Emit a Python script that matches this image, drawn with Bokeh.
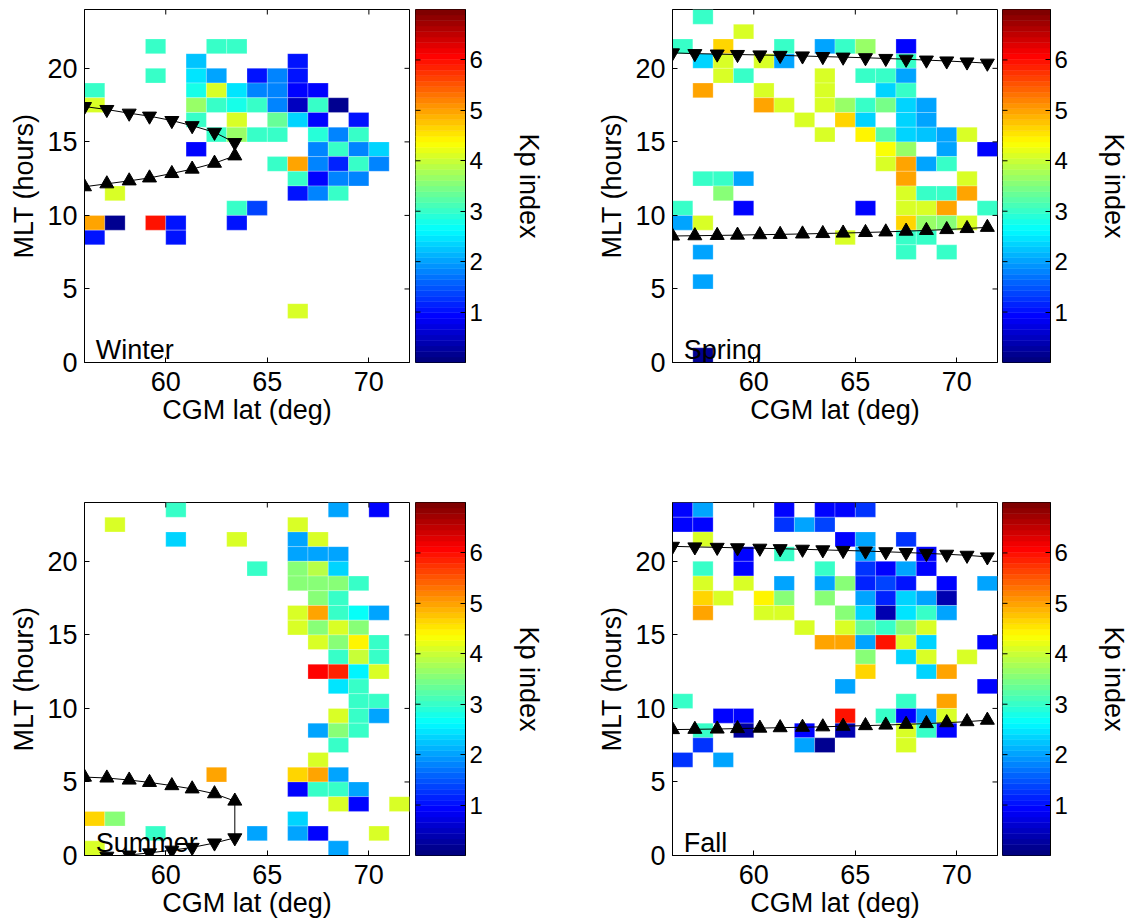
import numpy as np
from bokeh.plotting import figure
from bokeh.models import ColumnDataSource, FixedTicker, Label, Range1d
from bokeh.layouts import row, column
from bokeh.transform import linear_cmap
from bokeh.embed import file_html
from bokeh.resources import INLINE

# ---------------- data ----------------
# cells: (CGM lat bin start [deg], MLT bin start [h], mean Kp)
winter_cells = [
    (59, 21, 3.0), (62, 21, 3.0), (63, 21, 3.0),
    (61, 20, 2.2), (66, 20, 1.0),
    (59, 19, 3.0), (61, 19, 2.5), (62, 19, 2.0), (64, 19, 1.0), (65, 19, 1.8), (66, 19, 1.0),
    (56, 18, 3.0), (61, 18, 2.8), (62, 18, 4.1), (63, 18, 2.5), (64, 18, 1.8), (65, 18, 1.8),
    (66, 18, 0.9), (67, 18, 0.9),
    (56, 17, 4.1), (61, 17, 3.7), (62, 17, 3.0), (63, 17, 2.8), (64, 17, 3.0), (65, 17, 1.8),
    (66, 17, 0.5), (67, 17, 3.0), (68, 17, 0.2),
    (61, 16, 3.0), (63, 16, 4.1), (65, 16, 3.3), (66, 16, 2.4), (67, 16, 0.9), (69, 16, 1.0),
    (62, 15, 3.0), (63, 15, 3.7), (64, 15, 3.0), (65, 15, 3.0), (67, 15, 2.9), (68, 15, 1.8),
    (69, 15, 3.0),
    (61, 14, 0.9), (67, 14, 1.8), (68, 14, 3.0), (69, 14, 1.8), (70, 14, 2.4),
    (65, 13, 3.0), (66, 13, 5.0), (67, 13, 1.8), (68, 13, 1.2), (69, 13, 3.0), (70, 13, 1.8),
    (66, 12, 3.0), (67, 12, 0.9), (68, 12, 1.8), (69, 12, 1.8),
    (57, 11, 4.1), (66, 11, 1.0), (67, 11, 1.8), (68, 11, 3.0),
    (63, 10, 3.0), (64, 10, 1.4),
    (56, 9, 5.0), (57, 9, 0.2), (59, 9, 6.0), (60, 9, 1.0), (63, 9, 1.0),
    (56, 8, 1.0), (60, 8, 1.0),
    (66, 3, 4.1),
]
spring_cells = [
    (57, 23, 3.0),
    (59, 22, 4.1),
    (56, 21, 3.0), (58, 21, 4.6), (61, 21, 3.0), (63, 21, 2.0), (64, 21, 3.0), (65, 21, 3.7),
    (67, 21, 0.9),
    (57, 20, 2.4), (58, 20, 4.1), (60, 20, 4.1), (61, 20, 2.0), (67, 20, 3.0),
    (58, 19, 4.1), (59, 19, 3.0), (63, 19, 4.1), (65, 19, 3.0), (66, 19, 3.0), (67, 19, 2.0),
    (57, 18, 5.0), (60, 18, 4.1), (63, 18, 4.1), (66, 18, 2.4), (67, 18, 3.0),
    (60, 17, 5.0), (61, 17, 4.1), (63, 17, 4.1), (64, 17, 3.7), (65, 17, 3.0), (66, 17, 3.4),
    (67, 17, 2.4), (68, 17, 2.0),
    (62, 16, 4.1), (64, 16, 4.6), (65, 16, 2.4), (67, 16, 2.4), (68, 16, 2.0),
    (63, 15, 4.1), (65, 15, 4.4), (66, 15, 3.2), (67, 15, 2.3), (68, 15, 2.2), (69, 15, 2.0),
    (70, 15, 4.1),
    (66, 14, 4.3), (67, 14, 3.7), (69, 14, 2.0), (71, 14, 0.9),
    (66, 13, 4.1), (67, 13, 5.0), (68, 13, 2.0), (69, 13, 3.0),
    (57, 12, 3.0), (58, 12, 3.0), (59, 12, 2.0), (67, 12, 5.0), (70, 12, 4.1),
    (58, 11, 3.6), (67, 11, 4.1), (68, 11, 3.0), (69, 11, 3.0), (70, 11, 5.0),
    (56, 10, 3.0), (59, 10, 0.9), (65, 10, 0.9), (67, 10, 4.1), (68, 10, 4.1), (69, 10, 5.0),
    (71, 10, 3.0),
    (56, 9, 2.0), (57, 9, 4.1), (67, 9, 4.6), (68, 9, 3.7), (69, 9, 3.6), (70, 9, 4.1),
    (64, 8, 4.1), (67, 8, 3.0), (68, 8, 3.0),
    (57, 7, 2.0), (67, 7, 3.0), (69, 7, 3.0),
    (57, 5, 2.0),
    (57, 0, 0.2),
]
summer_cells = [
    (60, 23, 3.0), (68, 23, 2.0), (70, 23, 0.9),
    (57, 22, 4.1), (66, 22, 4.1),
    (60, 21, 2.4), (63, 21, 4.1), (66, 21, 2.0), (67, 21, 4.1),
    (66, 20, 2.0), (67, 20, 2.0), (68, 20, 2.0),
    (64, 19, 3.0), (66, 19, 3.6), (67, 19, 3.9), (68, 19, 2.4),
    (66, 18, 3.6), (67, 18, 3.6), (68, 18, 3.6), (69, 18, 3.0),
    (67, 17, 3.6), (68, 17, 3.0),
    (66, 16, 4.1), (67, 16, 5.0), (68, 16, 3.0), (69, 16, 2.7), (70, 16, 2.0),
    (66, 15, 4.1), (67, 15, 3.6), (68, 15, 4.1), (69, 15, 3.6),
    (67, 14, 4.1), (68, 14, 3.6), (69, 14, 4.4), (70, 14, 3.0),
    (68, 13, 3.0), (69, 13, 4.0), (70, 13, 3.0),
    (67, 12, 6.1), (68, 12, 5.8), (69, 12, 2.6), (70, 12, 4.1),
    (68, 11, 2.5), (69, 11, 3.0),
    (69, 10, 3.0), (70, 10, 3.0),
    (68, 9, 4.1), (69, 9, 3.0), (70, 9, 2.0),
    (67, 8, 2.0), (68, 8, 3.6), (69, 8, 3.0),
    (68, 7, 3.0),
    (67, 6, 4.1),
    (62, 5, 5.0), (66, 5, 4.6), (67, 5, 5.0), (68, 5, 2.0),
    (66, 4, 0.9), (67, 4, 3.0), (68, 4, 3.0), (69, 4, 2.0),
    (68, 3, 4.1), (69, 3, 0.9), (71, 3, 4.1),
    (56, 2, 4.6), (57, 2, 3.6), (66, 2, 2.4),
    (59, 1, 3.0), (64, 1, 2.0), (66, 1, 2.0), (67, 1, 0.9), (70, 1, 4.1),
    (56, 0, 4.1), (68, 0, 2.0),
]
fall_cells = [
    (56, 23, 0.9), (57, 23, 2.0), (61, 23, 0.9), (63, 23, 0.9), (64, 23, 0.9), (65, 23, 1.3),
    (56, 22, 0.9), (57, 22, 0.9), (61, 22, 1.3), (62, 22, 2.0), (63, 22, 1.4),
    (57, 21, 4.1), (64, 21, 0.9), (65, 21, 2.0), (67, 21, 1.3),
    (59, 20, 0.9), (61, 20, 3.0), (65, 20, 2.0), (68, 20, 0.9),
    (57, 19, 3.0), (59, 19, 0.9), (63, 19, 3.0), (65, 19, 1.3), (66, 19, 0.9), (67, 19, 2.0),
    (68, 19, 0.9),
    (57, 18, 4.1), (59, 18, 4.1), (61, 18, 2.0), (63, 18, 2.0), (64, 18, 3.6), (65, 18, 1.2),
    (66, 18, 1.4), (67, 18, 1.0), (69, 18, 0.9), (71, 18, 2.0),
    (57, 17, 4.6), (58, 17, 4.1), (60, 17, 4.4), (61, 17, 3.6), (63, 17, 3.6), (65, 17, 2.0),
    (66, 17, 1.2), (67, 17, 2.4), (68, 17, 2.0), (69, 17, 0.4),
    (57, 16, 5.0), (60, 16, 4.1), (61, 16, 4.1), (64, 16, 3.6), (65, 16, 2.4), (66, 16, 0.4),
    (67, 16, 2.5), (68, 16, 3.0), (69, 16, 2.0),
    (62, 15, 4.1), (64, 15, 4.1), (65, 15, 3.3), (66, 15, 3.0), (67, 15, 3.6), (68, 15, 4.1),
    (63, 14, 5.0), (64, 14, 5.0), (65, 14, 2.0), (66, 14, 6.0), (67, 14, 4.1), (68, 14, 2.4),
    (71, 14, 0.9),
    (65, 13, 3.6), (67, 13, 2.4), (68, 13, 4.1), (70, 13, 4.1),
    (65, 12, 4.6), (68, 12, 2.4), (69, 12, 5.0),
    (64, 11, 2.0), (71, 11, 0.9),
    (56, 10, 3.0), (67, 10, 3.0), (69, 10, 5.0),
    (58, 9, 0.9), (59, 9, 0.9), (64, 9, 6.0), (66, 9, 3.0), (67, 9, 0.9), (68, 9, 2.0),
    (69, 9, 4.1),
    (57, 8, 3.0), (59, 8, 0.3), (62, 8, 0.9), (64, 8, 0.4), (67, 8, 4.1), (68, 8, 3.0),
    (69, 8, 0.9),
    (57, 7, 1.3), (62, 7, 2.0), (63, 7, 0.2), (67, 7, 4.1),
    (56, 6, 1.3), (58, 6, 2.0),
]

# boundary markers (lat, MLT)
bound_lat = [56.0, 57.1, 58.2, 59.2, 60.3, 61.3, 62.4, 63.4,
             64.4, 65.5, 66.5, 67.5, 68.5, 69.5, 70.5, 71.5]
winter_down = [17.4, 17.2, 16.95, 16.75, 16.45, 16.1, 15.65, 14.95]
winter_up = [11.95, 12.15, 12.35, 12.55, 12.85, 13.15, 13.55, 14.05]
spring_down = [21.05, 21.0, 20.97, 20.94, 20.91, 20.88, 20.84, 20.8,
               20.76, 20.72, 20.67, 20.62, 20.56, 20.5, 20.43, 20.35]
spring_up = [8.6, 8.62, 8.64, 8.66, 8.69, 8.71, 8.74, 8.77,
             8.8, 8.84, 8.88, 8.93, 8.98, 9.04, 9.11, 9.19]
summer_down_lat = [57.1, 58.2, 59.2, 60.3, 61.3, 62.4, 63.4]
summer_down = [-0.05, 0.03, 0.18, 0.36, 0.55, 0.85, 1.2]
summer_up = [5.33, 5.27, 5.13, 4.97, 4.75, 4.53, 4.2, 3.7]
fall_down = [21.02, 20.98, 20.95, 20.92, 20.89, 20.86, 20.82, 20.78,
             20.74, 20.7, 20.65, 20.6, 20.54, 20.48, 20.41, 20.3]
fall_up = [8.56, 8.58, 8.6, 8.63, 8.66, 8.69, 8.72, 8.75,
           8.79, 8.83, 8.87, 8.92, 8.97, 9.03, 9.1, 9.2]

season_names = ["Winter", "Spring", "Summer", "Fall"]
x_ticks = [60, 65, 70]
y_ticks = [0, 5, 10, 15, 20]
cb_ticks = [1, 2, 3, 4, 5, 6]
KP_LOW, KP_HIGH = 0.0, 7.0
LAT_RANGE = (56, 72)
MLT_RANGE = (0, 24)
BIN = 1.0

# ---------------- style ----------------
FONT = "Liberation Sans"
FS = "27px"
FS_CB = "24px"
TICK = 10  # full dash length; half of it stays inside the frame


def jet(n=64):
    cols = []
    for i in range(n):
        x = i / (n - 1)
        r = min(max(1.5 - abs(4 * x - 3), 0), 1)
        g = min(max(1.5 - abs(4 * x - 2), 0), 1)
        b = min(max(1.5 - abs(4 * x - 1), 0), 1)
        cols.append("#%02x%02x%02x" % (round(r * 255), round(g * 255), round(b * 255)))
    return cols


PAL = jet(64)


def style_axis(ax, ticks, fs=FS):
    ax.ticker = FixedTicker(ticks=ticks)
    ax.major_tick_in = 5
    ax.major_tick_out = 0
    ax.minor_tick_in = 0
    ax.minor_tick_out = 0
    ax.axis_line_color = "black"
    ax.major_tick_line_color = "black"
    ax.major_label_text_font = FONT
    ax.major_label_text_color = "black"
    ax.major_label_text_font_size = fs
    ax.axis_label_text_font = FONT
    ax.axis_label_text_font_style = "normal"
    ax.axis_label_text_font_size = FS
    ax.axis_label_text_color = "black"


def heat_panel(cells, name, down_lat, down, up_lat, up, joined, bl, br, bt, bb):
    fw, fh = 325, 353
    p = figure(width=bl + fw + br, height=bt + fh + bb,
               x_range=Range1d(*LAT_RANGE), y_range=Range1d(*MLT_RANGE),
               toolbar_location=None, output_backend="svg",
               min_border_left=bl, min_border_right=br,
               min_border_top=bt, min_border_bottom=bb)
    p.xgrid.visible = False
    p.ygrid.visible = False
    p.outline_line_color = "black"
    p.background_fill_color = "white"
    p.border_fill_color = "white"

    lat, mlt, kp = zip(*cells)
    src = ColumnDataSource(dict(x=[v + BIN / 2 for v in lat],
                                y=[v + BIN / 2 for v in mlt], kp=list(kp)))
    p.rect(x="x", y="y", width=BIN, height=BIN, source=src,
           fill_color=linear_cmap("kp", PAL, KP_LOW, KP_HIGH),
           line_color="white", line_alpha=0.35, line_width=0.7)

    # boundary curves
    if joined:
        p.line(list(down_lat) + list(up_lat)[::-1], list(down) + list(up)[::-1],
               line_color="black", line_width=1)
    else:
        p.line(down_lat, down, line_color="black", line_width=1)
        p.line(up_lat, up, line_color="black", line_width=1)
    p.scatter(down_lat, down, marker="inverted_triangle", size=14,
              fill_color="black", line_color="black")
    p.scatter(up_lat, up, marker="triangle", size=14,
              fill_color="black", line_color="black")

    # inward ticks on the top and right frame edges (clipped to half length)
    p.scatter([LAT_RANGE[1]] * len(y_ticks), y_ticks, marker="dash", size=TICK,
              line_color="black", line_width=1)
    p.scatter(x_ticks, [MLT_RANGE[1]] * len(x_ticks), marker="dash", angle=np.pi / 2,
              size=TICK, line_color="black", line_width=1)

    style_axis(p.xaxis[0], x_ticks)
    p.xaxis[0].major_label_standoff = 9
    p.xaxis[0].axis_label = "CGM lat (deg)"
    p.xaxis[0].axis_label_standoff = 1
    style_axis(p.yaxis[0], y_ticks)
    p.yaxis[0].major_label_standoff = 7
    p.yaxis[0].axis_label = "MLT (hours)"
    p.yaxis[0].axis_label_standoff = 5

    p.add_layout(Label(x=56.55, y=0.85, text=name, text_font=FONT,
                       text_font_size=FS, text_color="black",
                       text_baseline="alphabetic"))
    return p


def colorbar_panel(br, bt, bb):
    fw, fh = 50, 353
    p = figure(width=fw + br, height=bt + fh + bb,
               x_range=Range1d(0, 1), y_range=Range1d(KP_LOW, KP_HIGH),
               toolbar_location=None, output_backend="svg",
               x_axis_location=None, y_axis_location="right",
               min_border_left=0, min_border_right=br,
               min_border_top=bt, min_border_bottom=bb)
    p.xgrid.visible = False
    p.ygrid.visible = False
    p.outline_line_color = "black"
    edges = np.linspace(KP_LOW, KP_HIGH, len(PAL) + 1)
    p.quad(left=0, right=1, bottom=edges[:-1], top=edges[1:],
           fill_color=PAL, line_color=PAL, line_width=0.5)
    p.scatter([0] * len(cb_ticks), cb_ticks, marker="dash", size=TICK,
              line_color="black", line_width=1)
    ax = p.yaxis[0]
    style_axis(ax, cb_ticks, fs=FS_CB)
    ax.major_label_standoff = 4
    ax.axis_label = "Kp index"
    ax.axis_label_standoff = 28
    return p


# ---------------- layout ----------------
TOP_T, TOP_B = 9, 70
BOT_T, BOT_B = 70, 67

w_lat8 = bound_lat[:8]
h1 = heat_panel(winter_cells, season_names[0], w_lat8, winter_down, w_lat8, winter_up, True,
                84, 6, TOP_T, TOP_B)
c1 = colorbar_panel(121, TOP_T, TOP_B)
h2 = heat_panel(spring_cells, season_names[1], bound_lat, spring_down, bound_lat, spring_up,
                False, 86, 5, TOP_T, TOP_B)
c2 = colorbar_panel(79, TOP_T, TOP_B)

h3 = heat_panel(summer_cells, season_names[2], summer_down_lat, summer_down, w_lat8, summer_up,
                True, 84, 6, BOT_T, BOT_B)
c3 = colorbar_panel(121, BOT_T, BOT_B)
h4 = heat_panel(fall_cells, season_names[3], bound_lat, fall_down, bound_lat, fall_up,
                False, 86, 5, BOT_T, BOT_B)
c4 = colorbar_panel(79, BOT_T, BOT_B)

lay = column(row(h1, c1, h2, c2, spacing=0), row(h3, c3, h4, c4, spacing=0), spacing=0)

open("out.html", "w").write(file_html(lay, INLINE))
